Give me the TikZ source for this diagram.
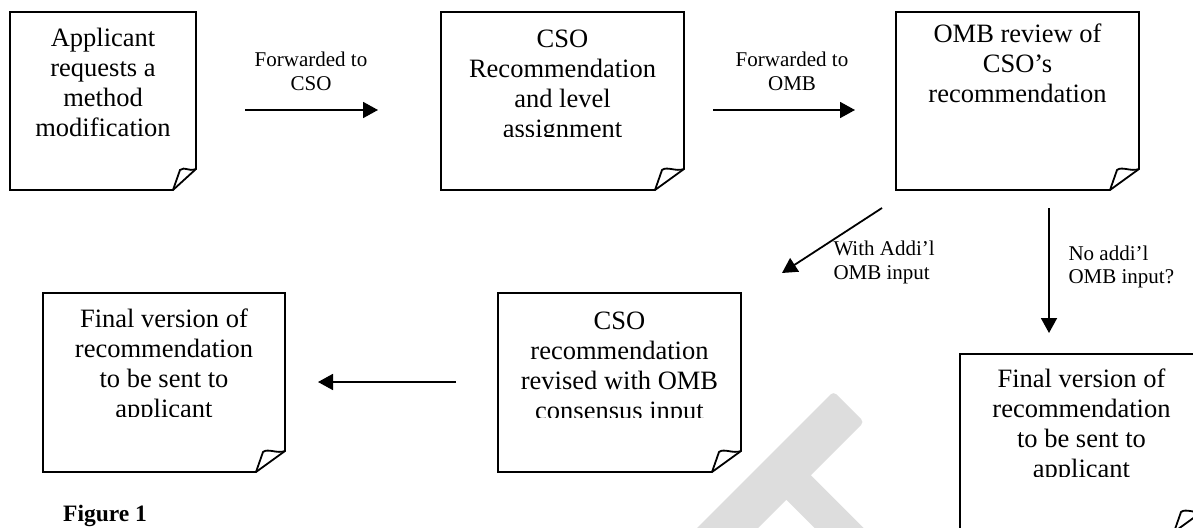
\documentclass[tikz,border=0pt]{standalone}
\usepackage{fontspec}
\setmainfont{Liberation Serif}
\usetikzlibrary{arrows.meta,calc}
\definecolor{wm}{RGB}{221,221,221}
\tikzset{
  boxline/.style={line width=1.8pt, line join=miter},
  notebox/.style={rectangle, inner sep=0pt, outer sep=0pt},
  boxtext/.style={inner sep=0pt, anchor=base},
  lbltext/.style={inner sep=0pt},
  flowarrow/.style={line width=1.8pt, -{Triangle[length=15pt,width=16pt]}},
}
\newcommand\boxfont{\fontsize{26.5}{30}\selectfont}
\newcommand\lblfont{\fontsize{21}{23.5}\selectfont}
\newcommand\drawfold[3]{%
  \draw[boxline] (#1.north west) -- (#1.north east) -- ($(#1.south east)+(0,-#3)$)
     -- ($(#1.south east)+(-#2,0)$) -- (#1.south west) -- cycle;
  \draw[boxline] ($(#1.south east)+(-#2,0)$) -- ($(#1.south east)+(-#2+7,-#3+1)$)
     .. controls +(5,-4) and +(-8,3) .. ($(#1.south east)+(0,-#3)$);
}
\begin{document}
\begin{tikzpicture}[x=1pt,y=-1pt]
\useasboundingbox (0,0) rectangle (1193,527);
\clip (0,0) rectangle (1193,527);
\fill[white] (0,0) rectangle (1193,527);

% watermark letter
\fill[wm, rounded corners=4pt] (687.5,537.5) -- (833.5,391.5) -- (864,422) [sharp corners]
  -- (810.85,475.15) -- (917.85,582.15) -- (893.35,606.65) -- (786.35,499.65) -- (718,568) -- cycle;

% boxes
\node[notebox, minimum width=186pt, minimum height=178pt] (b1) at (103,101) {};
\node[notebox, minimum width=243pt, minimum height=178pt] (b2) at (562.5,101) {};
\node[notebox, minimum width=243pt, minimum height=178pt] (b3) at (1017.5,101) {};
\node[notebox, minimum width=242pt, minimum height=179pt] (b4) at (164,382.5) {};
\node[notebox, minimum width=243pt, minimum height=179pt] (b5) at (619.5,382.5) {};
\node[notebox, minimum width=243pt, minimum height=178pt] (b6) at (1081.5,443) {};
\drawfold{b1}{23}{21}
\drawfold{b2}{29}{21}
\drawfold{b3}{29}{21}
\drawfold{b4}{29}{21}
\drawfold{b5}{29}{21}
\drawfold{b6}{29}{21}

% box texts (clipped like the text frames)
\begin{scope}
  \clip (10,12) rectangle (196,136);
  \node[boxtext] (t1) at (103,46.5) {\parbox[t]{260pt}{\centering\boxfont Applicant\\requests a\\method\\modification}};
\end{scope}
\begin{scope}
  \clip (441,12) rectangle (684,136.5);
  \node[boxtext] (t2) at (562.5,47.5) {\parbox[t]{260pt}{\centering\boxfont CSO\\Recommendation\\and level\\assignment}};
\end{scope}
\begin{scope}
  \clip (896,12) rectangle (1139,136.5);
  \node[boxtext] (t3) at (1017.5,42) {\parbox[t]{260pt}{\centering\boxfont OMB review of\\CSO’s\\recommendation}};
\end{scope}
\begin{scope}
  \clip (43,293) rectangle (285,416.5);
  \node[boxtext] (t4) at (164,327) {\parbox[t]{260pt}{\centering\boxfont Final version of\\recommendation\\to be sent to\\applicant}};
\end{scope}
\begin{scope}
  \clip (498,293) rectangle (741,417.5);
  \node[boxtext] (t5) at (619.5,329) {\parbox[t]{260pt}{\centering\boxfont CSO\\recommendation\\revised with OMB\\consensus input}};
\end{scope}
\begin{scope}
  \clip (960,354) rectangle (1203,476.5);
  \node[boxtext] (t6) at (1081.5,387) {\parbox[t]{260pt}{\centering\boxfont Final version of\\recommendation\\to be sent to\\applicant}};
\end{scope}

% arrow end points
\coordinate (a1s) at (245,110);
\coordinate (a1e) at (378,110);
\coordinate (a2s) at (713,110);
\coordinate (a2e) at (855,110);
\coordinate (a3s) at (882,208);
\coordinate (a3e) at (782,273);
\coordinate (a4s) at (1049,208);
\coordinate (a4e) at (1049,333);
\coordinate (a5s) at (456,382);
\coordinate (a5e) at (318,382);
\draw[flowarrow] (a1s) -- (a1e);
\draw[flowarrow] (a2s) -- (a2e);
\draw[flowarrow] (a3s) -- (a3e);
\draw[flowarrow] (a4s) -- (a4e);
\draw[flowarrow] (a5s) -- (a5e);

% labels
\node[lbltext, anchor=base] (l1) at (311,66.7) {\parbox[t]{160pt}{\centering\lblfont Forwarded to\\CSO}};
\node[lbltext, anchor=base] (l2) at (792,66.7) {\parbox[t]{160pt}{\centering\lblfont Forwarded to\\OMB}};
\node[lbltext, anchor=base west] (l3) at (833.3,255.7) {\parbox[t]{160pt}{\raggedright\lblfont With Addi’l\\OMB input}};
\node[lbltext, anchor=base west] (l4) at (1068.3,260) {\parbox[t]{160pt}{\raggedright\lblfont No addi’l\\OMB input?}};

\node[lbltext, anchor=base west] (fig) at (63,521.7) {\fontsize{23.5}{26}\selectfont\bfseries Figure 1};
\end{tikzpicture}
\end{document}
